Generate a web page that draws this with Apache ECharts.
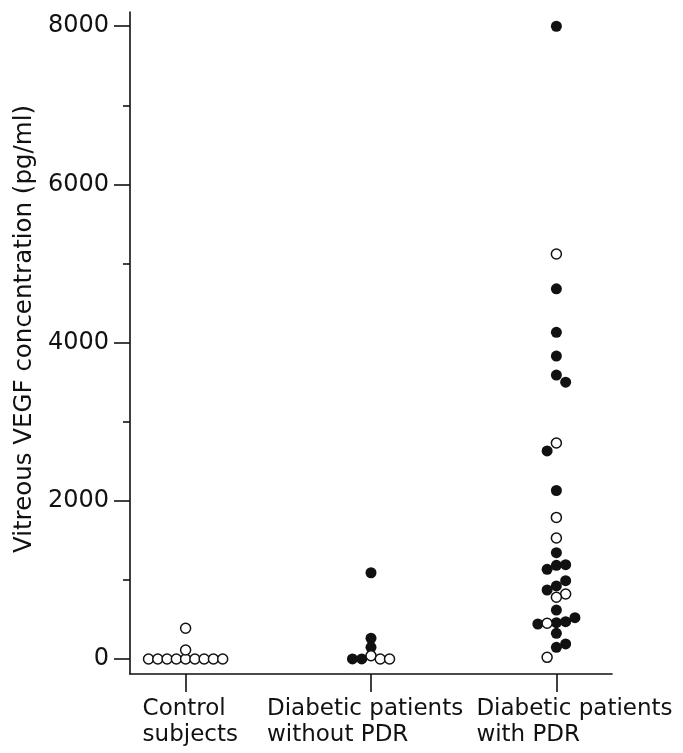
<!DOCTYPE html>
<html>
<head>
<meta charset="utf-8">
<script src="https://cdn.jsdelivr.net/npm/echarts@6/dist/echarts.min.js"></script>
<style>
  html, body { margin: 0; padding: 0; background: #fff; }
  #chart { width: 683px; height: 753px; }
</style>
</head>
<body>
<div id="chart"></div>
<script>
// groups on the x axis
var groups = ['Control\nsubjects', 'Diabetic patients\nwithout PDR', 'Diabetic patients\nwith PDR']
var groupPos = [1, 2, 3]
var yTicks = [0, 2000, 4000, 6000, 8000]
var yMinorTicks = [1000, 3000, 5000, 7000]

// vitreous VEGF (pg/ml) and jitter slot (side-by-side column) per dot
var ctrlOpenVEGF = [0, 0, 0, 0, 0, 0, 0, 0, 0, 114, 388]
var ctrlOpenSlot = [-4, -3, -2, -1, 0, 1, 2, 3, 4, 0, 0]

var noPdrFilledVEGF = [0, 0, 148, 262, 1090]
var noPdrFilledSlot = [-2, -1, 0, 0, 0]
var noPdrOpenVEGF = [40, 0, 0]
var noPdrOpenSlot = [0, 1, 2]

var pdrFilledVEGF = [8000, 4680, 4130, 3830, 3590, 3500, 2630, 2130, 1344, 1134, 1184, 1192,
  990, 923, 872, 619, 442, 459, 472, 522, 325, 190, 148]
var pdrFilledSlot = [0, 0, 0, 0, 0, 1, -1, 0, 0, -1, 0, 1,
  1, 0, -1, 0, -2, 0, 1, 2, 0, 1, 0]
var pdrOpenVEGF = [5120, 2730, 1790, 1530, 822, 780, 451, 21]
var pdrOpenSlot = [0, 0, 0, 0, 1, 0, -1, -1]

var slotStep = 0.05
var font = '"DejaVu Sans", Verdana, sans-serif'
var ink = '#111'

function pts (g, vals, slots) {
  var out = []
  for (var i = 0; i < vals.length; i++) {
    out.push([groupPos[g] + slots[i] * slotStep, vals[i]])
  }
  return out
}

var filled = pts(1, noPdrFilledVEGF, noPdrFilledSlot).concat(pts(2, pdrFilledVEGF, pdrFilledSlot))
var open = pts(0, ctrlOpenVEGF, ctrlOpenSlot)
  .concat(pts(1, noPdrOpenVEGF, noPdrOpenSlot))
  .concat(pts(2, pdrOpenVEGF, pdrOpenSlot))

var labelStyle = { align: 'left', fontSize: 23, lineHeight: 26, fontFamily: font, color: ink }
var labelBox = [
  Object.assign({ width: 86 }, labelStyle),
  Object.assign({ width: 208 }, labelStyle),
  Object.assign({ width: 208, padding: [0, 0, 0, 48] }, labelStyle)
]

// one x axis per group so the long labels are not hidden as overlapping;
// the first one also draws the axis line and the ticks
var xAxes = groups.map(function (name, i) {
  return {
    type: 'value',
    min: 0.7,
    max: 3.3,
    position: 'bottom',
    splitLine: { show: false },
    axisLine: { show: i === 0, onZero: false, lineStyle: { color: ink, width: 1.6 } },
    axisTick: { show: i === 0, customValues: groupPos, length: 18, lineStyle: { color: ink, width: 1.6 } },
    axisLabel: {
      customValues: [groupPos[i]],
      margin: 22,
      showMinLabel: true,
      showMaxLabel: true,
      formatter: function () {
        return name.split('\n').map(function (l) { return '{g|' + l + '}' }).join('\n')
      },
      rich: { g: labelBox[i] }
    }
  }
})

var chart = echarts.init(document.getElementById('chart'))
var option = {
  animation: false,
  backgroundColor: '#fff',
  grid: { left: 130, right: 71, top: 12, bottom: 79, containLabel: false, outerBoundsMode: 'none' },
  xAxis: xAxes,
  yAxis: [{
    type: 'value',
    min: -190,
    max: 8180,
    name: 'Vitreous VEGF concentration (pg/ml)',
    nameLocation: 'middle',
    nameGap: 93,
    nameTextStyle: { fontSize: 24.5, fontFamily: font, color: ink, padding: [0, 0, 0, 28] },
    splitLine: { show: false },
    axisLine: { show: true, onZero: false, lineStyle: { color: ink, width: 1.6 } },
    axisTick: { show: true, customValues: yTicks, length: 16, lineStyle: { color: ink, width: 1.6 } },
    axisLabel: {
      customValues: yTicks,
      margin: 21,
      fontSize: 24,
      fontFamily: font,
      color: ink,
      showMinLabel: true,
      showMaxLabel: true,
      formatter: function (v) { return String(v) }
    }
  }, {
    type: 'value',
    min: -190,
    max: 8180,
    position: 'left',
    splitLine: { show: false },
    axisLine: { show: false },
    axisTick: { show: true, customValues: yMinorTicks, length: 7, lineStyle: { color: ink, width: 1.6 } },
    axisLabel: { show: false }
  }],
  series: [{
    type: 'scatter',
    data: filled,
    symbol: 'circle',
    symbolSize: 11,
    itemStyle: { color: ink, opacity: 1 }
  }, {
    type: 'scatter',
    data: open,
    symbol: 'circle',
    symbolSize: 10,
    itemStyle: { color: '#fff', borderColor: ink, borderWidth: 1.5, opacity: 1 }
  }]
}
chart.setOption(option)
</script>
</body>
</html>
